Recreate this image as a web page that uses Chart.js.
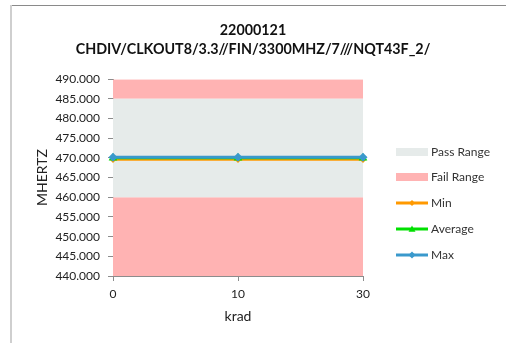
<!DOCTYPE html>
<html>
<head>
<meta charset="utf-8">
<script src="https://cdn.jsdelivr.net/npm/chart.js@4.4.1/dist/chart.umd.min.js"></script>
<style>
  html, body { margin: 0; padding: 0; background: #fff; }
  #wrap { position: absolute; left: 0; top: 0; width: 506px; height: 343px; }
</style>
</head>
<body>
<div id="wrap"><canvas id="c" width="506" height="343"></canvas></div>
<script>
// ---- data ----
const categories = ['0', '10', '30'];
const minValues = [469.6, 469.6, 469.6];
const avgValues = [470.0, 470.0, 470.0];
const maxValues = [470.15, 470.15, 470.15];
const passUpper = [485, 485, 485];
const passLower = 460;
const failUpper = [490, 490, 490];
const failLowerTop = [460, 460, 460];
const titleLines = ['22000121', 'CHDIV/CLKOUT8/3.3//FIN/3300MHZ/7///NQT43F_2/'];
const yTitle = 'MHERTZ';
const xTitle = 'krad';
const legendLabels = ['Pass Range', 'Fail Range', 'Min', 'Average', 'Max'];

const FONT = 'Lato, "Liberation Sans", sans-serif';
const PASS = '#E6EBEA';
const FAIL = '#FFB3B3';
const ORANGE = '#FF9900';
const GREEN = '#00E000';
const BLUE = '#3A99CC';

const frame = {
  id: 'frame',
  beforeDraw(chart) {
    const ctx = chart.ctx;
    ctx.save();
    ctx.fillStyle = '#fff';
    ctx.fillRect(0, 0, chart.width, chart.height);
    ctx.strokeStyle = '#8a8a8a';
    ctx.lineWidth = 1;
    ctx.beginPath(); ctx.moveTo(10, 5.5); ctx.lineTo(506, 5.5); ctx.stroke();
    ctx.strokeStyle = '#cfcfcf';
    ctx.lineWidth = 2;
    ctx.beginPath(); ctx.moveTo(11, 5); ctx.lineTo(11, 343); ctx.stroke();
    ctx.restore();
  }
};

function drawMarker(ctx, style, x, y, r, color) {
  ctx.fillStyle = color;
  ctx.beginPath();
  if (style === 'diamond') {
    ctx.moveTo(x, y - r); ctx.lineTo(x + r, y); ctx.lineTo(x, y + r); ctx.lineTo(x - r, y);
  } else {
    ctx.moveTo(x, y - r); ctx.lineTo(x + r, y + r * 0.8); ctx.lineTo(x - r, y + r * 0.8);
  }
  ctx.closePath();
  ctx.fill();
}

const legendPlugin = {
  id: 'customLegend',
  afterDraw(chart) {
    const ctx = chart.ctx;
    const x0 = 396, x1 = 428, tx = 431;
    const rows = [152, 177, 203, 229, 255];
    ctx.save();
    ctx.font = '12px ' + FONT;
    ctx.textBaseline = 'middle';
    ctx.textAlign = 'left';
    legendLabels.forEach((lab, i) => {
      const y = rows[i];
      if (i === 0 || i === 1) {
        ctx.fillStyle = i === 0 ? PASS : FAIL;
        ctx.fillRect(x0, y - 4, x1 - x0, 8);
      } else {
        const col = i === 2 ? ORANGE : i === 3 ? GREEN : BLUE;
        ctx.strokeStyle = col;
        ctx.lineWidth = 3;
        ctx.beginPath(); ctx.moveTo(x0, y); ctx.lineTo(x1, y); ctx.stroke();
        drawMarker(ctx, i === 3 ? 'triangle' : 'diamond', (x0 + x1) / 2, y, i === 2 ? 3 : 3.5, col);
      }
      ctx.fillStyle = '#333';
      ctx.fillText(lab, tx, y + 0.5);
    });
    ctx.restore();
  }
};

const lineBase = { fill: false, clip: false, tension: 0 };

new Chart(document.getElementById('c'), {
  type: 'line',
  data: {
    labels: categories,
    datasets: [
      Object.assign({}, lineBase, { label: 'Max', data: maxValues, borderColor: BLUE, backgroundColor: BLUE,
        borderWidth: 3, pointStyle: 'rectRot', pointRadius: 4.5, pointBorderWidth: 0, order: 0 }),
      Object.assign({}, lineBase, { label: 'Average', data: avgValues, borderColor: GREEN, backgroundColor: GREEN,
        borderWidth: 2.5, pointStyle: 'triangle', pointRadius: 5, pointBorderWidth: 0, order: 1 }),
      Object.assign({}, lineBase, { label: 'Min', data: minValues, borderColor: ORANGE, backgroundColor: ORANGE,
        borderWidth: 2.5, pointStyle: 'rectRot', pointRadius: 3.5, pointBorderWidth: 0, order: 2 }),
      { label: 'Pass Range', data: passUpper, fill: { value: passLower }, backgroundColor: PASS,
        borderWidth: 0, pointRadius: 0, order: 3 },
      { label: 'Fail Range', data: failUpper, fill: { value: 485 }, backgroundColor: FAIL,
        borderWidth: 0, pointRadius: 0, order: 4 },
      { label: 'Fail Range low', data: failLowerTop, fill: 'start', backgroundColor: FAIL,
        borderWidth: 0, pointRadius: 0, order: 5 }
    ]
  },
  options: {
    responsive: false,
    animation: false,
    events: [],
    layout: { padding: 0 },
    plugins: {
      legend: { display: false },
      tooltip: { enabled: false },
      title: {
        display: true,
        text: titleLines,
        color: '#111',
        font: { family: FONT, size: 14.3, weight: 'bold', lineHeight: 1.3 },
        padding: { top: 21, bottom: 21 }
      }
    },
    scales: {
      x: {
        type: 'category',
        offset: false,
        grid: { display: true, drawOnChartArea: false, tickLength: 5, color: '#8c8c8c' },
        border: { color: '#8c8c8c' },
        ticks: { color: '#222', font: { family: FONT, size: 12 }, padding: 6, maxRotation: 0 },
        title: { display: true, text: xTitle, color: '#222', font: { family: FONT, size: 14 }, padding: { top: 4, bottom: 18 } },
        afterFit(s) { s.height = 67; }
      },
      y: {
        min: 440, max: 490,
        grid: { display: true, drawOnChartArea: false, tickLength: 5, color: '#8c8c8c' },
        border: { color: '#8c8c8c' },
        ticks: { stepSize: 5, color: '#222', font: { family: FONT, size: 12 }, padding: 8,
          callback: v => Number(v).toFixed(3) },
        title: { display: true, text: yTitle, color: '#222', font: { family: FONT, size: 14 }, padding: { top: 34, bottom: 4 } },
        afterFit(s) { s.width = 113; }
      },
      legendSpace: {
        type: 'linear',
        position: 'right',
        display: true,
        grid: { display: false },
        border: { display: false },
        ticks: { display: false },
        afterFit(s) { s.width = 143; }
      }
    }
  },
  plugins: [frame, legendPlugin]
});
</script>
</body>
</html>
